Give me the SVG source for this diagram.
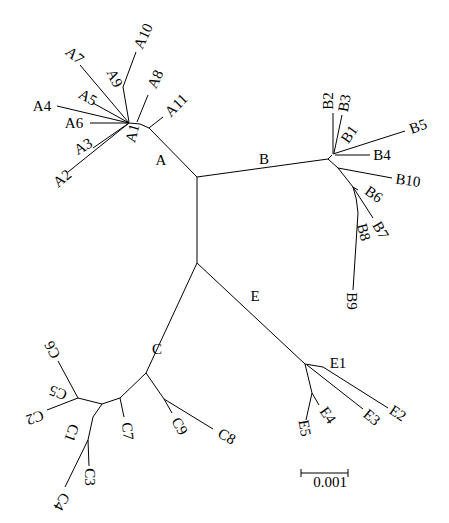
<svg xmlns="http://www.w3.org/2000/svg" width="449" height="523" viewBox="0 0 449 523">
<style>
.e{fill:none;stroke:#000;stroke-width:1}
text{font-family:"Liberation Serif","Times New Roman",serif;font-size:15px;fill:#000;text-anchor:middle}
</style>
<rect width="449" height="523" fill="#fff"/>
<g id="connectors">
<path class="e" d="M197,177 L197,263"/>
<path class="e" d="M197,177 L149,128 L140,124 L129,123"/>
<path class="e" d="M149,128 L163,117"/>
<path class="e" d="M137,122 L148,95"/>
<path class="e" d="M129,123 L80,65 M129,123 L57,106 M129,123 L93,103 M129,123 L90,123 M129,123 L93,148 M129,123 L68,172"/>
<path class="e" d="M129,122 L123,87 L136,52"/>
<path class="e" d="M197,177 L328,159 L332,155"/>
<path class="e" d="M333,154 L333,113 M334,153 L342,115 M333,154 L405,131 M335,155 L370,155"/>
<path class="e" d="M328,159 L338,168 L353,187 M338,168 L392,178 M353,187 L373,218 M353,187 L358,190"/>
<path class="e" d="M353,187 Q357,198 358,213 L353,290"/>
<path class="e" d="M197,263 L146,373"/>
<path class="e" d="M146,373 L164,399 L213,429 M164,399 L172,413"/>
<path class="e" d="M146,373 L120,398 L102,404 L78,398 M120,398 L124,417 M78,398 L58,361 M78,398 L47,410"/>
<path class="e" d="M102,404 L93,417 L88,440 M88,440 L89,466 M88,440 L65,487"/>
<path class="e" d="M197,263 L305,364"/>
<path class="e" d="M305,364 L323,367 L388,408 M307,365 L363,409 M305,364 L312,393 L319,405 M312,393 L306,420"/>
</g>
<g id="A"><text x="161" y="160" dy=".35em">A</text></g>
<g id="B"><text x="264" y="159" dy=".35em">B</text></g>
<g id="C"><text x="157" y="349" dy=".35em">C</text></g>
<g id="E"><text x="255" y="296" dy=".35em">E</text></g>
<g id="A1"><text transform="translate(132,133) rotate(-75)" dy=".35em">A1</text></g>
<g id="A2"><text transform="translate(62,178) rotate(-40)" dy=".35em">A2</text></g>
<g id="A3"><text transform="translate(83,146) rotate(-30)" dy=".35em">A3</text></g>
<g id="A4"><text transform="translate(42,106)" dy=".35em">A4</text></g>
<g id="A5"><text transform="translate(88,97) rotate(30)" dy=".35em">A5</text></g>
<g id="A6"><text transform="translate(74,123)" dy=".35em">A6</text></g>
<g id="A7"><text transform="translate(75,55) rotate(40)" dy=".35em">A7</text></g>
<g id="A8"><text transform="translate(155,79) rotate(-65)" dy=".35em">A8</text></g>
<g id="A9"><text transform="translate(115,78) rotate(65)" dy=".35em">A9</text></g>
<g id="A10"><text transform="translate(143,36) rotate(-65)" dy=".35em">A10</text></g>
<g id="A11"><text transform="translate(176,105) rotate(-45)" dy=".35em">A11</text></g>
<g id="B1"><text transform="translate(349,134) rotate(-55)" dy=".35em">B1</text></g>
<g id="B2"><text transform="translate(328,101) rotate(-90)" dy=".35em">B2</text></g>
<g id="B3"><text transform="translate(344,103) rotate(-80)" dy=".35em">B3</text></g>
<g id="B4"><text transform="translate(382,155)" dy=".35em">B4</text></g>
<g id="B5"><text transform="translate(418,126) rotate(-20)" dy=".35em">B5</text></g>
<g id="B6"><text transform="translate(374,194) rotate(35)" dy=".35em">B6</text></g>
<g id="B7"><text transform="translate(381,230) rotate(60)" dy=".35em">B7</text></g>
<g id="B8"><text transform="translate(364,232) rotate(75)" dy=".35em">B8</text></g>
<g id="B9"><text transform="translate(352,301) rotate(90)" dy=".35em">B9</text></g>
<g id="B10"><text transform="translate(408,180) rotate(8)" dy=".35em">B10</text></g>
<g id="C1"><text transform="translate(72,433) rotate(110)" dy=".35em">C1</text></g>
<g id="C2"><text transform="translate(35,418) rotate(160)" dy=".35em">C2</text></g>
<g id="C3"><text transform="translate(90,477) rotate(90)" dy=".35em">C3</text></g>
<g id="C4"><text transform="translate(62,502) rotate(120)" dy=".35em">C4</text></g>
<g id="C5"><text transform="translate(58,393) rotate(200)" dy=".35em">C5</text></g>
<g id="C6"><text transform="translate(52,350) rotate(242)" dy=".35em">C6</text></g>
<g id="C7"><text transform="translate(128,431) rotate(85)" dy=".35em">C7</text></g>
<g id="C8"><text transform="translate(227,436) rotate(30)" dy=".35em">C8</text></g>
<g id="C9"><text transform="translate(180,426) rotate(60)" dy=".35em">C9</text></g>
<g id="E1"><text transform="translate(338,363)" dy=".35em">E1</text></g>
<g id="E2"><text transform="translate(398,413) rotate(33)" dy=".35em">E2</text></g>
<g id="E3"><text transform="translate(372,417) rotate(40)" dy=".35em">E3</text></g>
<g id="E4"><text transform="translate(328,415) rotate(55)" dy=".35em">E4</text></g>
<g id="E5"><text transform="translate(305,428) rotate(80)" dy=".35em">E5</text></g>
<g id="scale">
<path class="e" d="M301,473 L348,473 M301,469 L301,477 M348,469 L348,477" stroke="#444"/>
<text x="330" y="482" dy=".35em">0.001</text>
</g>
</svg>
